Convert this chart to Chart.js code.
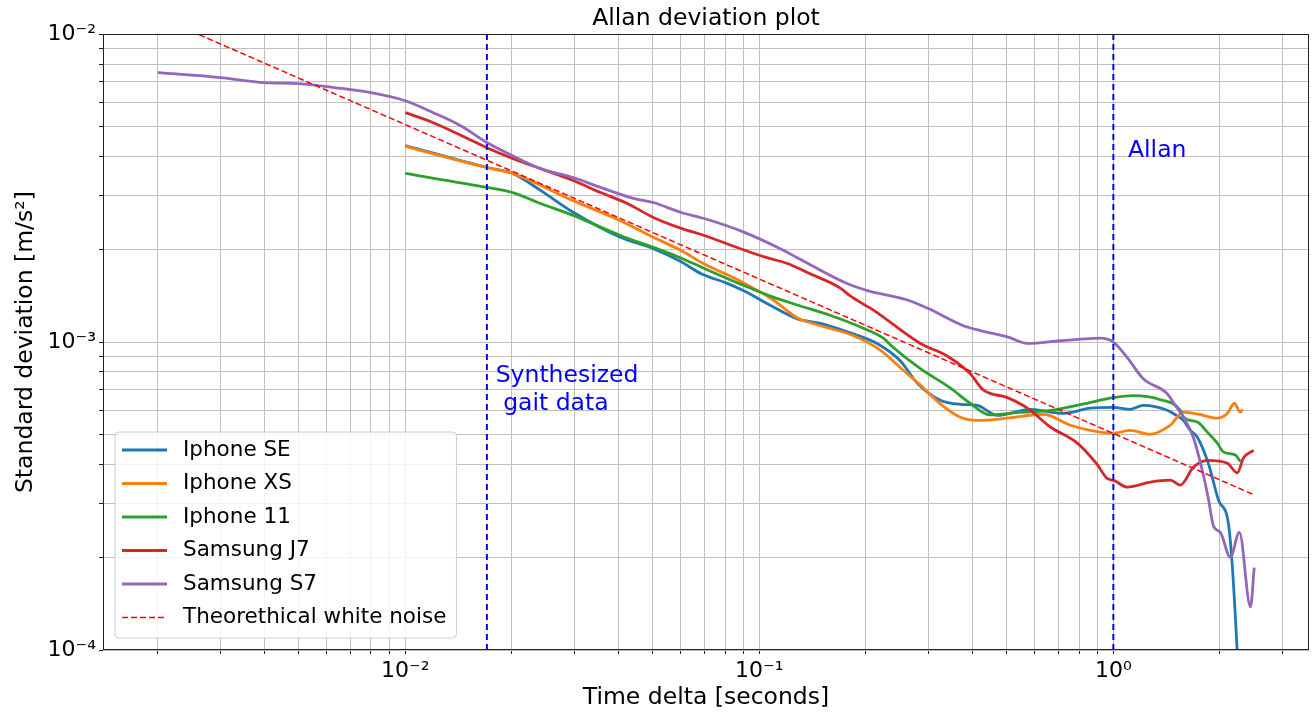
<!DOCTYPE html>
<html>
<head>
<meta charset="utf-8">
<script src="https://cdn.jsdelivr.net/npm/chart.js@4.4.1/dist/chart.umd.min.js"></script>
<style>
  html, body { margin: 0; padding: 0; background: #fff; }
  canvas { display: block; }
</style>
</head>
<body>
<canvas id="allanChart" width="1315" height="712"></canvas>
<script>
// averaging time tau [s] and Allan deviation [m/s^2]
const seTau = [0.0100, 0.0170, 0.0201, 0.0241, 0.0298, 0.0405, 0.0502, 0.0598, 0.069, 0.0802, 0.0901, 0.1095, 0.128, 0.149, 0.177, 0.215, 0.250, 0.2795, 0.3246, 0.3697, 0.4128, 0.4703, 0.583, 0.723, 0.861, 1.0, 1.117, 1.215, 1.42, 1.50, 1.577, 1.65, 1.727, 1.843, 1.879, 1.981, 2.113, 2.169, 2.24];
const seDev = [0.00435, 0.00369, 0.00353, 0.00311, 0.00264, 0.00219, 0.00201, 0.00183, 0.00166, 0.00156, 0.00147, 0.00130, 0.00119, 0.00115, 0.00108, 0.00099, 0.00087, 0.000735, 0.000647, 0.000628, 0.000623, 0.000578, 0.000605, 0.000587, 0.00061, 0.000614, 0.000605, 0.000623, 0.000601, 0.00058, 0.000557, 0.000517, 0.000491, 0.000413, 0.000384, 0.000307, 0.000258, 0.000186, 0.000098];

const xsTau = [0.0100, 0.0170, 0.0201, 0.0298, 0.0405, 0.0502, 0.0598, 0.0695, 0.0901, 0.1095, 0.128, 0.149, 0.184, 0.220, 0.255, 0.2795, 0.3246, 0.37, 0.4128, 0.502, 0.634, 0.756, 0.861, 1.0, 1.117, 1.272, 1.449, 1.577, 1.747, 1.967, 2.10, 2.197, 2.284, 2.314];
const xsDev = [0.00432, 0.00369, 0.00353, 0.00288, 0.00248, 0.00219, 0.00199, 0.00180, 0.00156, 0.00137, 0.00120, 0.00113, 0.00105, 0.00094, 0.00081, 0.00074, 0.00063, 0.00057, 0.000557, 0.000566, 0.000583, 0.000537, 0.000517, 0.000506, 0.000517, 0.000502, 0.000537, 0.000592, 0.000583, 0.000566, 0.000587, 0.000633, 0.000592, 0.000605];

const i11Tau = [0.0100, 0.0170, 0.0201, 0.0241, 0.0298, 0.0405, 0.0502, 0.0598, 0.0695, 0.0901, 0.1095, 0.128, 0.159, 0.193, 0.224, 0.239, 0.285, 0.346, 0.394, 0.449, 0.536, 0.664, 0.823, 1.0, 1.139, 1.358, 1.546, 1.577, 1.727, 1.843, 1.967, 2.045, 2.211, 2.284];
const i11Dev = [0.00353, 0.00318, 0.00306, 0.00282, 0.00258, 0.00222, 0.00203, 0.00188, 0.00174, 0.00153, 0.00140, 0.00132, 0.00122, 0.00112, 0.00103, 0.00096, 0.00082, 0.00071, 0.000633, 0.00058, 0.00059, 0.00060, 0.00063, 0.00066, 0.00067, 0.00065, 0.00060, 0.00057, 0.00055, 0.00051, 0.00047, 0.00044, 0.00043, 0.00041];

const j7Tau = [0.0100, 0.0120, 0.0170, 0.0201, 0.0241, 0.0298, 0.0356, 0.0424, 0.0502, 0.0602, 0.0699, 0.0884, 0.105, 0.120, 0.137, 0.169, 0.181, 0.21, 0.285, 0.340, 0.394, 0.429, 0.502, 0.572, 0.664, 0.791, 0.901, 0.962, 1.0, 1.095, 1.272, 1.45, 1.546, 1.683, 1.843, 2.10, 2.24, 2.33, 2.49];
const j7Dev = [0.00556, 0.00516, 0.00428, 0.00395, 0.00366, 0.00335, 0.00306, 0.00282, 0.00254, 0.00234, 0.00222, 0.00201, 0.00188, 0.00180, 0.00168, 0.00150, 0.00141, 0.00127, 0.00099, 0.00090, 0.00079, 0.00070, 0.00066, 0.00061, 0.00053, 0.00047, 0.00040, 0.00036, 0.000356, 0.000338, 0.000351, 0.000356, 0.000343, 0.000392, 0.000413, 0.000404, 0.000376, 0.00042, 0.000445];

const s7Tau = [0.0020, 0.0030, 0.0040, 0.0050, 0.0063, 0.0080, 0.0100, 0.0120, 0.0143, 0.0170, 0.0201, 0.0241, 0.0298, 0.0356, 0.0441, 0.0502, 0.0598, 0.0699, 0.0901, 0.1146, 0.128, 0.177, 0.202, 0.262, 0.298, 0.377, 0.421, 0.502, 0.572, 0.709, 0.919, 1.0, 1.095, 1.215, 1.42, 1.50, 1.58, 1.683, 1.796, 1.855, 1.92, 2.006, 2.14, 2.27, 2.44, 2.50];
const s7Dev = [0.00750, 0.00723, 0.00696, 0.00691, 0.00671, 0.00646, 0.00608, 0.00556, 0.00505, 0.00445, 0.00403, 0.00366, 0.00342, 0.00318, 0.00293, 0.00284, 0.00264, 0.00252, 0.00228, 0.00201, 0.00188, 0.00155, 0.00147, 0.00137, 0.00129, 0.00113, 0.00109, 0.00104, 0.00099, 0.00101, 0.00103, 0.00100, 0.00089, 0.00076, 0.00068, 0.00062, 0.00057, 0.00049, 0.00037, 0.00031, 0.000252, 0.000241, 0.000200, 0.000241, 0.000138, 0.000185];

// theoretical white noise, end points of the straight line
const whiteTau = [0.002, 2.5];
const whiteDev = [0.0114, 0.000319];

// vertical markers: synthesized gait data and Allan
const markerTau = [0.017, 1.0];

const xMajorTicks = [0.01, 0.1, 1];
const xTickLabels = ['10⁻²', '10⁻¹', '10⁰'];
const yMajorTicks = [1e-4, 1e-3, 1e-2];
const yTickLabels = ['10⁻⁴', '10⁻³', '10⁻²'];

const X_MIN = 0.0014, X_MAX = 3.57;
const Y_MIN = 1e-4, Y_MAX = 1e-2;

// minor + major grid positions (1..9 x 10^k) inside the axis range
function logGrid(min, max) {
  const out = [];
  for (let e = Math.floor(Math.log10(min)); e <= Math.ceil(Math.log10(max)); e++) {
    for (let m = 1; m <= 9; m++) {
      const v = Number((m * Math.pow(10, e)).toPrecision(6));
      if (v >= min * 0.9999 && v <= max * 1.0001) out.push(v);
    }
  }
  return out;
}

function tickLabel(majors, labels) {
  return (value) => {
    const i = majors.findIndex(v => Math.abs(v - value) / v < 1e-6);
    return i >= 0 ? labels[i] : '';
  };
}

function pairs(xs, ys) {
  return xs.map((x, i) => ({ x, y: ys[i] }));
}

Chart.defaults.font.family = '"DejaVu Sans", sans-serif';
Chart.defaults.color = '#000';

const deviceLine = {
  pointRadius: 0,
  borderWidth: 2.8,
  fill: false,
  cubicInterpolationMode: 'monotone',
  borderJoinStyle: 'round',
  inLegend: true
};

const notes = [
  { lines: ['Synthesized', ' gait data'], x: 0.018, y: 6.0e-4 },
  { lines: ['Allan'], x: 1.1, y: 0.004 }
];

// frame, text notes and legend box drawn over the data
const overlay = {
  id: 'overlay',
  afterDatasetsDraw(chart) {
    const { ctx, chartArea: a, scales: { x, y } } = chart;
    ctx.save();

    ctx.strokeStyle = '#222';
    ctx.lineWidth = 1;
    ctx.strokeRect(Math.round(a.left) + 0.5, Math.round(a.top) + 0.5,
      Math.round(a.width) - 1, Math.round(a.height) - 1);

    ctx.fillStyle = '#0000ff';
    ctx.font = '23.5px "DejaVu Sans"';
    ctx.textAlign = 'left';
    ctx.textBaseline = 'alphabetic';
    notes.forEach(n => {
      const px = x.getPixelForValue(n.x);
      const py = y.getPixelForValue(n.y);
      n.lines.forEach((t, i) => {
        ctx.fillText(t, px, py - (n.lines.length - 1 - i) * 28);
      });
    });

    // legend
    const items = chart.data.datasets.filter(d => d.inLegend);
    ctx.font = '21.5px "DejaVu Sans"';
    const textW = Math.max(...items.map(d => ctx.measureText(d.label).width));
    const rowH = 33.5;
    const w = 68 + textW + 10;
    const h = 18 + (items.length - 1) * rowH + 20.5;
    const left = a.left + 12;
    const top = a.bottom - 12 - h;
    ctx.beginPath();
    if (ctx.roundRect) ctx.roundRect(left, top, w, h, 4);
    else ctx.rect(left, top, w, h);
    ctx.fillStyle = 'rgba(255,255,255,0.8)';
    ctx.fill();
    ctx.strokeStyle = '#cccccc';
    ctx.lineWidth = 1;
    ctx.stroke();

    items.forEach((d, i) => {
      const cy = top + 18 + i * rowH;
      ctx.beginPath();
      ctx.setLineDash(d.borderDash || []);
      ctx.strokeStyle = d.borderColor;
      ctx.lineWidth = d.borderWidth;
      ctx.moveTo(left + 7, cy);
      ctx.lineTo(left + 52, cy);
      ctx.stroke();
      ctx.setLineDash([]);
      ctx.fillStyle = '#000';
      ctx.textBaseline = 'middle';
      ctx.fillText(d.label, left + 68, cy);
    });

    ctx.restore();
  }
};

const gridStyle = {
  color: 'rgb(192,192,192)',
  lineWidth: 1,
  drawTicks: true,
  tickLength: 4,
  tickColor: '#222',
  tickWidth: 1
};

new Chart(document.getElementById('allanChart'), {
  type: 'line',
  data: {
    datasets: [
      { ...deviceLine, label: 'Iphone SE', data: pairs(seTau, seDev), borderColor: '#1f77b4', order: 7 },
      { ...deviceLine, label: 'Iphone XS', data: pairs(xsTau, xsDev), borderColor: '#ff7f0e', order: 6 },
      { ...deviceLine, label: 'Iphone 11', data: pairs(i11Tau, i11Dev), borderColor: '#2ca02c', order: 5 },
      { ...deviceLine, label: 'Samsung J7', data: pairs(j7Tau, j7Dev), borderColor: '#d62728', order: 4 },
      { ...deviceLine, label: 'Samsung S7', data: pairs(s7Tau, s7Dev), borderColor: '#9467bd', order: 3 },
      {
        label: 'Theorethical white noise', data: pairs(whiteTau, whiteDev),
        borderColor: '#ff0000', borderWidth: 1.5, borderDash: [6, 3],
        pointRadius: 0, fill: false, order: 2, inLegend: true
      },
      {
        label: 'Synthesized gait data', data: [{ x: markerTau[0], y: Y_MIN }, { x: markerTau[0], y: Y_MAX }],
        borderColor: '#0000ff', borderWidth: 2, borderDash: [6, 4],
        pointRadius: 0, fill: false, order: 1, inLegend: false
      },
      {
        label: 'Allan', data: [{ x: markerTau[1], y: Y_MIN }, { x: markerTau[1], y: Y_MAX }],
        borderColor: '#0000ff', borderWidth: 2, borderDash: [6, 4],
        pointRadius: 0, fill: false, order: 1, inLegend: false
      }
    ]
  },
  options: {
    responsive: false,
    animation: false,
    layout: { padding: { left: 0, right: 6, top: 0, bottom: 0 } },
    plugins: {
      legend: { display: false },
      tooltip: { enabled: false },
      title: {
        display: true,
        fullSize: false,
        text: 'Allan deviation plot',
        font: { size: 23.5, weight: 'normal' },
        color: '#000',
        padding: { top: 5, bottom: 1 }
      }
    },
    scales: {
      x: {
        type: 'logarithmic',
        min: X_MIN,
        max: X_MAX,
        border: { display: false },
        grid: gridStyle,
        afterBuildTicks: (scale) => {
          scale.ticks = logGrid(X_MIN, X_MAX).map(v => ({ value: v }));
        },
        afterFit: (scale) => { scale.height = 62; },
        ticks: {
          autoSkip: false,
          maxRotation: 0,
          padding: 4,
          font: { size: 22 },
          color: '#000',
          callback: tickLabel(xMajorTicks, xTickLabels)
        },
        title: {
          display: true,
          text: 'Time delta [seconds]',
          font: { size: 23.5 },
          color: '#000',
          padding: { top: 0, bottom: 0 }
        }
      },
      y: {
        type: 'logarithmic',
        min: Y_MIN,
        max: Y_MAX,
        border: { display: false },
        grid: gridStyle,
        afterBuildTicks: (scale) => {
          scale.ticks = logGrid(Y_MIN, Y_MAX).map(v => ({ value: v }));
        },
        afterFit: (scale) => { scale.width = 103; },
        ticks: {
          autoSkip: false,
          padding: 3,
          font: { size: 22 },
          color: '#000',
          callback: tickLabel(yMajorTicks, yTickLabels)
        },
        title: {
          display: true,
          text: 'Standard deviation [m/s²]',
          font: { size: 23.5 },
          color: '#000',
          padding: { top: 12, bottom: 0 }
        }
      }
    }
  },
  plugins: [overlay]
});
</script>
</body>
</html>
